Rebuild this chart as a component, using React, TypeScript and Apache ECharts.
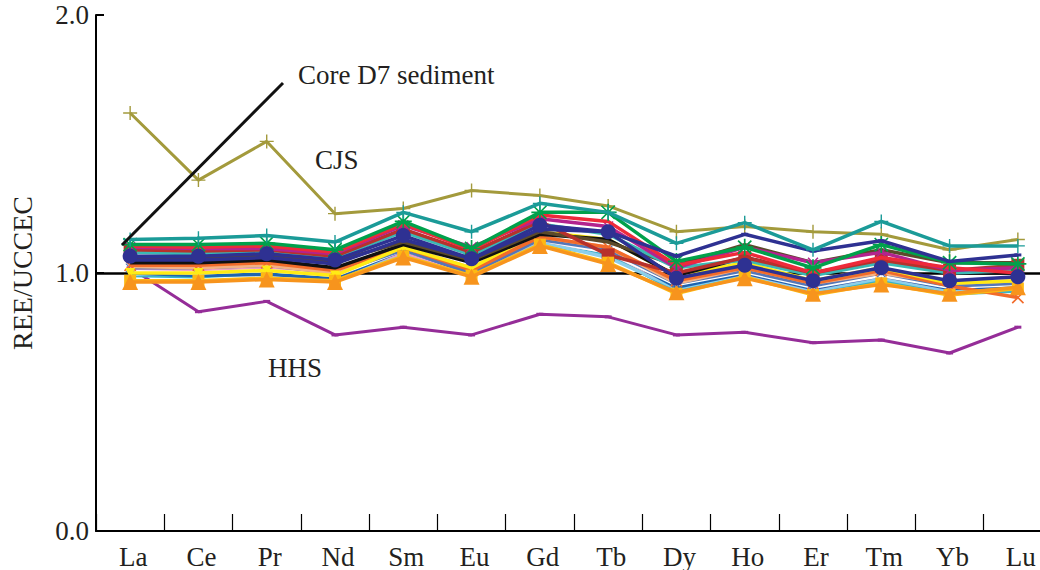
import React, { useEffect, useRef } from "react";
import * as echarts from "echarts";

const elements = ["La", "Ce", "Pr", "Nd", "Sm", "Eu", "Gd", "Tb", "Dy", "Ho", "Er", "Tm", "Yb", "Lu"];
const yTicks = [0, 1, 2];

const cjs = [1.62, 1.36, 1.51, 1.23, 1.25, 1.32, 1.3, 1.26, 1.16, 1.18, 1.16, 1.15, 1.09, 1.13];
const hhs = [1.02, 0.85, 0.89, 0.76, 0.79, 0.76, 0.84, 0.83, 0.76, 0.77, 0.73, 0.74, 0.69, 0.79];
const d7Teal = [1.13, 1.135, 1.145, 1.12, 1.235, 1.16, 1.27, 1.235, 1.115, 1.195, 1.09, 1.2, 1.105, 1.105];
const d7NavyLine = [1.05, 1.05, 1.06, 1.035, 1.13, 1.055, 1.17, 1.16, 1.065, 1.15, 1.085, 1.125, 1.045, 1.07];
const d7Green = [1.11, 1.11, 1.115, 1.09, 1.2, 1.095, 1.235, 1.235, 1.045, 1.1, 1.02, 1.11, 1.04, 1.035];
const d7Red = [1.105, 1.1, 1.105, 1.08, 1.19, 1.09, 1.225, 1.2, 1.03, 1.08, 1.0, 1.06, 1.02, 1.0];
const d7Magenta = [1.1, 1.095, 1.095, 1.075, 1.185, 1.1, 1.21, 1.18, 1.02, 1.1, 1.04, 1.08, 1.01, 1.02];
const d7Crimson = [1.09, 1.085, 1.09, 1.065, 1.17, 1.08, 1.2, 1.07, 1.0, 1.06, 1.0, 1.05, 1.01, 1.03];
const d7Teal2 = [1.08, 1.075, 1.08, 1.06, 1.16, 1.07, 1.19, 1.15, 1.02, 1.05, 0.99, 1.04, 1.0, 1.01];
const d7Brown = [1.06, 1.06, 1.065, 1.045, 1.12, 1.05, 1.16, 1.12, 1.03, 1.11, 1.04, 1.09, 1.04, 1.04];
const d7Black = [1.04, 1.04, 1.05, 1.02, 1.11, 1.04, 1.15, 1.13, 0.99, 1.06, 1.0, 1.05, 1.0, 1.0];
const d7Yellow = [1.0, 1.0, 1.01, 0.99, 1.1, 1.02, 1.16, 1.13, 0.99, 1.04, 0.97, 1.02, 0.96, 0.97];
const d7Peach = [1.025, 1.02, 1.03, 1.0, 1.1, 1.02, 1.14, 1.1, 0.96, 1.02, 0.96, 1.0, 0.96, 0.97];
const d7OrangeRed = [1.03, 1.03, 1.04, 1.01, 1.1, 1.01, 1.14, 1.1, 0.97, 1.02, 0.96, 1.01, 0.95, 0.905];
const d7Cornflower = [1.02, 1.02, 1.03, 1.0, 1.09, 1.0, 1.13, 1.09, 0.96, 1.01, 0.95, 1.0, 0.95, 0.96];
const d7Blue = [1.0, 0.99, 0.995, 0.98, 1.09, 1.0, 1.14, 1.09, 0.945, 1.0, 0.94, 0.99, 0.94, 0.95];
const d7Pink = [1.01, 1.01, 1.02, 0.995, 1.08, 1.0, 1.13, 1.08, 0.95, 1.0, 0.94, 0.99, 0.94, 0.95];
const d7Sky = [0.995, 0.995, 1.005, 0.985, 1.07, 0.995, 1.12, 1.06, 0.94, 0.995, 0.93, 0.98, 0.93, 0.94];
const d7Cyan = [0.99, 0.985, 1.0, 0.975, 1.08, 0.99, 1.11, 1.07, 0.93, 0.99, 0.93, 0.97, 0.92, 0.93];
const d7White = [1.005, 1.0, 1.01, 0.99, 1.09, 1.005, 1.13, 1.08, 0.955, 1.005, 0.945, 0.99, 0.945, 0.955];
const d7Gold = [0.97, 0.97, 0.98, 0.97, 1.065, 0.99, 1.11, 1.04, 0.92, 0.985, 0.915, 0.96, 0.915, 0.94];
const d7Orange = [0.965, 0.965, 0.975, 0.965, 1.06, 0.985, 1.105, 1.035, 0.925, 0.98, 0.92, 0.955, 0.92, 0.945];
const d7NavyDots = [1.065, 1.065, 1.075, 1.05, 1.145, 1.055, 1.185, 1.16, 0.98, 1.03, 0.97, 1.02, 0.97, 0.985];

const PLUS = "path://M9,0H11V9H20V11H11V20H9V11H0V9H9Z";
const STAR =
  "path://M9,0H11V9H20V11H11V20H9V11H0V9H9Z M1.5,2.9L2.9,1.5L10,8.6L17.1,1.5L18.5,2.9L11.4,10L18.5,17.1L17.1,18.5L10,11.4L2.9,18.5L1.5,17.1L8.6,10Z";

const FONT = "'Liberation Serif', 'DejaVu Serif', serif";

type Spec = {
  name: string;
  data: number[];
  color: string;
  symbol?: string;
  size?: number | number[];
  rotate?: number;
  width?: number;
};

const specs: Spec[] = [
  { name: "CJS", data: cjs, color: "#A39A3C", symbol: PLUS, size: 14, width: 3 },
  { name: "HHS", data: hhs, color: "#952D98", symbol: "rect", size: [7, 3], width: 3 },
  { name: "D7-cyan", data: d7Cyan, color: "#39B4C9" },
  { name: "D7-sky", data: d7Sky, color: "#8CCFEA" },
  { name: "D7-pink", data: d7Pink, color: "#F2A0C0" },
  { name: "D7-blue", data: d7Blue, color: "#1E64B0" },
  { name: "D7-white", data: d7White, color: "#FFFFFF" },
  { name: "D7-cornflower", data: d7Cornflower, color: "#5577B8", symbol: PLUS, size: 12, rotate: 45 },
  { name: "D7-peach", data: d7Peach, color: "#F4B183" },
  { name: "D7-orangered", data: d7OrangeRed, color: "#F26B2A", symbol: PLUS, size: 16, rotate: 45 },
  { name: "D7-yellow", data: d7Yellow, color: "#FFEB15", symbol: "triangle", size: 10, rotate: 180 },
  { name: "D7-black", data: d7Black, color: "#111111" },
  { name: "D7-brown", data: d7Brown, color: "#5B4A2A" },
  { name: "D7-teal2", data: d7Teal2, color: "#3BB9B4" },
  { name: "D7-crimson", data: d7Crimson, color: "#B7312C", symbol: "rect", size: 13 },
  { name: "D7-magenta", data: d7Magenta, color: "#B3238E", symbol: PLUS, size: 14, rotate: 45 },
  { name: "D7-red", data: d7Red, color: "#EE2A3A" },
  { name: "D7-green", data: d7Green, color: "#00A14B", symbol: STAR, size: 17 },
  { name: "D7-navyline", data: d7NavyLine, color: "#2E3192", symbol: "rect", size: [7, 3] },
  { name: "D7-teal", data: d7Teal, color: "#1B9B98", symbol: PLUS, size: 14 },
  { name: "D7-gold", data: d7Gold, color: "#FDB913", symbol: "rect", size: 12 },
  { name: "D7-orange", data: d7Orange, color: "#F7941D", symbol: "triangle", size: 16 },
  { name: "D7-navy", data: d7NavyDots, color: "#2E3192", symbol: "circle", size: 15 },
];

export default function App() {
  const ref = useRef<HTMLDivElement>(null);
  useEffect(() => {
    document.body.style.margin = "0";
    document.body.style.overflow = "hidden";
    if (!ref.current) return;
    const chart = echarts.init(ref.current, undefined, { renderer: "svg" });
    const series: any[] = [
      {
        name: "ref",
        type: "line",
        data: [],
        z: 1,
        silent: true,
        markLine: {
          silent: true,
          symbol: "none",
          label: { show: false },
          lineStyle: { color: "#000", width: 2.5, type: "solid" },
          data: [{ yAxis: 1 }],
        },
      },
    ];
    specs.forEach((s, i) => {
      series.push({
        name: s.name,
        type: "line",
        data: s.data,
        z: 2 + i,
        showSymbol: !!s.symbol,
        symbol: s.symbol || "none",
        symbolSize: s.size || 0,
        symbolRotate: s.rotate || 0,
        lineStyle: { color: s.color, width: s.width || 3.5 },
        itemStyle: { color: s.color, borderWidth: 0 },
        silent: true,
      });
    });
    chart.setOption({
      animation: false,
      backgroundColor: "#fff",
      grid: { left: 95, top: 15, height: 516, width: 957 },
      xAxis: {
        type: "category",
        data: elements,
        boundaryGap: true,
        axisLine: { show: true, lineStyle: { color: "#000", width: 2 } },
        axisTick: { show: true, inside: true, length: 17, lineStyle: { color: "#000", width: 1.2 } },
        axisLabel: {
          color: "#231F20",
          fontFamily: FONT,
          fontSize: 27,
          margin: 12,
          padding: [0, 0, 0, 6],
        },
        splitLine: { show: false },
      },
      yAxis: {
        type: "value",
        min: yTicks[0],
        max: yTicks[yTicks.length - 1],
        interval: 1,
        name: "REE/UCCEC",
        nameLocation: "middle",
        nameGap: 60,
        nameTextStyle: { color: "#231F20", fontFamily: FONT, fontSize: 28 },
        axisLine: { show: true, lineStyle: { color: "#000", width: 2 } },
        axisTick: { show: true, inside: true, length: 8, lineStyle: { color: "#000", width: 2 } },
        axisLabel: {
          color: "#231F20",
          fontFamily: FONT,
          fontSize: 27,
          margin: 7,
          formatter: (v: number) => v.toFixed(1),
        },
        splitLine: { show: false },
      },
      graphic: [
        {
          type: "line",
          shape: { x1: 122, y1: 245, x2: 283, y2: 83 },
          style: { stroke: "#111", lineWidth: 3 },
          z: 100,
        },
        {
          type: "text",
          x: 298,
          y: 75,
          style: { text: "Core D7 sediment", font: `27px ${FONT}`, fill: "#231F20", textVerticalAlign: "middle" },
        },
        {
          type: "text",
          x: 315,
          y: 160,
          style: { text: "CJS", font: `27px ${FONT}`, fill: "#231F20", textVerticalAlign: "middle" },
        },
        {
          type: "text",
          x: 268,
          y: 368,
          style: { text: "HHS", font: `27px ${FONT}`, fill: "#231F20", textVerticalAlign: "middle" },
        },
      ],
      series,
    });
    return () => chart.dispose();
  }, []);
  return (
    <div style={{ width: 1040, height: 570, overflow: "hidden", position: "relative" }}>
      <div ref={ref} style={{ width: 1070, height: 570 }} />
    </div>
  );
}
